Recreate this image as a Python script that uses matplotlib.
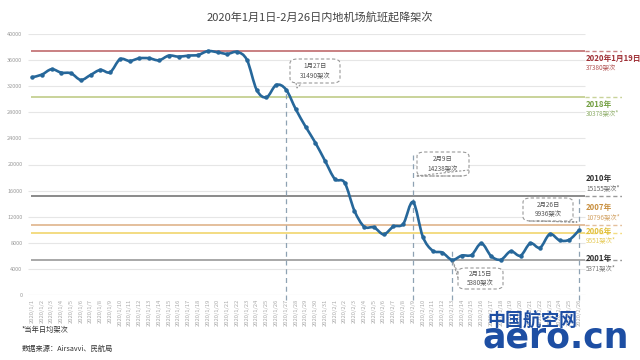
import matplotlib
matplotlib.use("Agg")
import matplotlib.pyplot as plt
from matplotlib.path import Path
from matplotlib.patches import PathPatch, FancyBboxPatch
import numpy as np

plt.rcParams['font.family'] = ['Noto Sans CJK SC', 'DejaVu Sans']

title = "2020年1月1日-2月26日内地机场航班起降架次"

dates = ([f"2020/1/{d}" for d in range(1, 32)] +
         [f"2020/2/{d}" for d in range(1, 27)])

flights = [33370, 33770, 34600, 34080, 33980, 32960, 33730, 34500, 34140, 36130,
           35870, 36280, 36280, 35970, 36690, 36530, 36690, 36790, 37380, 37200,
           36950, 37250, 36030, 31430, 30300, 32190, 31490, 28470, 25800, 23350,
           20540, 17780, 17220, 12920, 10470, 10370, 9300, 10500, 10900, 14238,
           8940, 6800, 6500, 5380, 6050, 6150, 7900, 5950, 5420, 6700,
           6030, 7920, 7250, 9330, 8380, 8480, 9936]

ref_values = [37380, 30378, 15155, 10796, 9551, 5371]
ref_titles = ["2020年1月19日", "2018年", "2010年", "2007年", "2006年", "2001年"]
ref_subs = ["37380架次", "30378架次*", "15155架次*", "10796架次*", "9551架次*", "5371架次*"]
ref_line_colors = ["#c98082", "#c9d39a", "#8a8a8a", "#e4bf9c", "#f3dc82", "#a8a8a8"]
ref_text_colors = ["#9e2f35", "#74a043", "#333333", "#c99040", "#e2c03a", "#333333"]
ref_sub_colors = ["#b25555", "#8fae6a", "#666666", "#d3a365", "#e6cb5a", "#777777"]

callouts = [("1月27日\n31490架次", "2020/1/27"),
            ("2月9日\n14238架次", "2020/2/9"),
            ("2月15日\n5380架次", "2020/2/13"),
            ("2月26日\n9936架次", "2020/2/26")]

yticks = list(range(0, 40001, 4000))
footnote = "*当年日均架次"
source = "数据来源：Airsavvi、民航局"

W, H = 640, 360
fig = plt.figure(figsize=(6.4, 3.6), dpi=100)
fig.patch.set_facecolor("white")

def fx(px):
    return px / W

def fy(py):
    return 1 - py / H

# axes from pixel x 28..622, y 34..295
ax = fig.add_axes([fx(28), fy(295), fx(622) - fx(28), (295 - 34) / H])
step = 9.77
x0 = 32
def xd(px):
    return (px - x0) / step

ax.set_xlim(xd(28), xd(622))
ax.set_ylim(0, 40000)
for s in ax.spines.values():
    s.set_visible(False)
ax.set_facecolor("none")

xs = np.arange(len(flights))
grid_end = xd(585)

# gridlines
for v in yticks:
    ax.hlines(v, xd(28), grid_end, color="#e6e6e6" if v else "#cfcfcf", lw=0.8, zorder=0)
ax.set_yticks(yticks)
ax.set_yticklabels([str(v) for v in yticks], fontsize=4, color="#9a9a9a")
ax.tick_params(axis="y", length=0, pad=4)
ax.set_xticks(xs)
ax.set_xticklabels(dates, rotation=90, fontsize=4.2, color="#aaaaaa", va="top")
ax.tick_params(axis="x", length=0, pad=3)

# reference lines
for v, c in zip(ref_values, ref_line_colors):
    ax.hlines(v, xd(31), grid_end, color=c, lw=1.4, zorder=1)
    ax.hlines(v, grid_end, xd(622), color="#9a9a9a" if c in ("#8a8a8a", "#a8a8a8") else c,
              lw=1.0, ls=(0, (3, 2)), zorder=1)

# vertical dashed lines
vtops = {"2020/1/27": 31490, "2020/2/9": 21800, "2020/2/13": 7100, "2020/2/26": 15000}
for label, d in callouts:
    i = dates.index(d)
    ax.vlines(i, -700, vtops[d], color="#8ea2b3", lw=0.9, ls=(0, (4, 3)), zorder=2, clip_on=False)

# smooth line via Catmull-Rom bezier
pts = np.column_stack([xs, flights]).astype(float)
verts = [tuple(pts[0])]
codes = [Path.MOVETO]
n = len(pts)
for k in range(n - 1):
    p0 = pts[k - 1] if k > 0 else pts[k]
    p1 = pts[k]
    p2 = pts[k + 1]
    p3 = pts[k + 2] if k + 2 < n else pts[k + 1]
    c1 = p1 + (p2 - p0) / 6.0
    c2 = p2 - (p3 - p1) / 6.0
    verts += [tuple(c1), tuple(c2), tuple(p2)]
    codes += [Path.CURVE4] * 3
line_color = "#26679a"
ax.add_patch(PathPatch(Path(verts, codes), fill=False, ec=line_color, lw=1.9, zorder=4,
                       capstyle="round", joinstyle="round"))
ax.plot(xs, flights, ls="none", marker="o", ms=2.2, color=line_color, zorder=5)

# right labels
label_y = [(58, 68), (104, 114), (179, 189), (208, 218), (231, 241), (259, 269)]
for (ty, sy), t, s, tc, sc in zip(label_y, ref_titles, ref_subs, ref_text_colors, ref_sub_colors):
    fig.text(fx(586), fy(ty), t, fontsize=5.6, color=tc, va="center", ha="left", fontweight="bold")
    fig.text(fx(586), fy(sy), s, fontsize=4.6, color=sc, va="center", ha="left")

# callout boxes (pixel geometry)
boxes = [(290, 59, 340, 83, (297, 88)),
         (417, 152, 469, 176, (416, 176)),
         (458, 268, 503, 289, (453, 262)),
         (523, 198, 573, 221, (577, 222))]
for (label, d), (l, t, r, b, tip) in zip(callouts, boxes):
    p = FancyBboxPatch((fx(l), fy(b)), fx(r) - fx(l), fy(t) - fy(b),
                       boxstyle="round,pad=0,rounding_size=0.012",
                       transform=fig.transFigure, fc="white", ec="#9a9a9a",
                       lw=0.8, ls=(0, (3, 2)), zorder=10)
    fig.add_artist(p)
    fig.text(fx((l + r) / 2), fy((t + b) / 2), label, fontsize=4.6, color="#555555",
             ha="center", va="center", linespacing=1.2, zorder=11)
    # pointer
    tx, ty = tip
    if ty > b:
        a1 = (l + 6, b); a2 = (l + 12, b)
    elif ty < t and tx < l:
        a1 = (l, t + 5); a2 = (l, t + 10)
    else:
        a1 = (r, b - 6); a2 = (r - 6, b)
    fig.add_artist(plt.Line2D([fx(a1[0]), fx(tx), fx(a2[0])], [fy(a1[1]), fy(ty), fy(a2[1])],
                              transform=fig.transFigure, color="#9a9a9a", lw=0.8,
                              ls=(0, (2, 1.5)), zorder=10))

fig.text(0.5, fy(18), title, fontsize=8, color="#444444", ha="center", va="center")
fig.text(fx(22), fy(330), footnote, fontsize=5.2, color="#333333", ha="left", va="center")
fig.text(fx(22), fy(349), source, fontsize=5.2, color="#333333", ha="left", va="center")

# watermark
fig.text(fx(487), fy(321), "中国航空网", fontsize=13, color="#1d4ea3", ha="left",
         va="center", fontweight="bold", zorder=20)
fig.text(fx(483), fy(338), "aero.cn", fontsize=25, color="#1d4ea3", ha="left",
         va="center", fontweight="heavy", family="DejaVu Sans", zorder=20)

fig.savefig("out.png", dpi=100, facecolor="white")
